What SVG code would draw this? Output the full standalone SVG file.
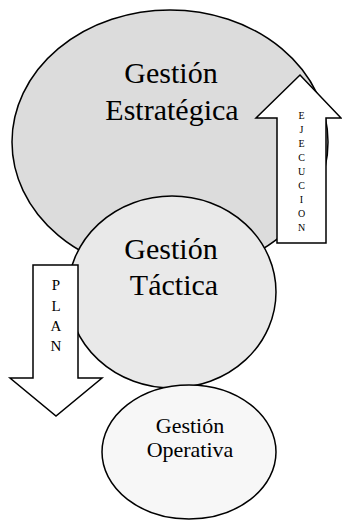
<svg xmlns="http://www.w3.org/2000/svg" width="342" height="521" viewBox="0 0 342 521">
  <style>
    .shape { stroke: #000; stroke-width: 1.5; }
    text { font-family: 'Liberation Serif', Tinos, 'Times New Roman', serif; fill: #000; text-anchor: middle; }
    .big { font-size: 30px; }
    .mid { font-size: 22px; }
  </style>
  <rect width="342" height="521" fill="#fff"/>

  <g id="estrategica">
    <ellipse class="shape" cx="170" cy="142" rx="158" ry="132" fill="#dcdcdc"/>
    <text class="big" x="171" y="83">Gestión</text>
    <text class="big" x="172" y="120">Estratégica</text>
  </g>

  <g id="connectors">
    <g id="ejecucion">
      <path class="shape" d="M300,75 L341,118 L326,118 L326,243 L277,243 L277,118 L256,118 Z" fill="#fff"/>
      <g font-size="10">
        <text x="301.5" y="119">E</text>
        <text x="301.5" y="133">J</text>
        <text x="301.5" y="147">E</text>
        <text x="301.5" y="161">C</text>
        <text x="301.5" y="175">U</text>
        <text x="301.5" y="189">C</text>
        <text x="301.5" y="203">I</text>
        <text x="301.5" y="217">O</text>
        <text x="301.5" y="231">N</text>
      </g>
    </g>
  </g>

  <g id="tactica">
    <ellipse class="shape" cx="172" cy="292" rx="104" ry="96" fill="#e9e9e9"/>
    <text class="big" x="171" y="259">Gestión</text>
    <text class="big" x="174" y="295">Táctica</text>
  </g>

  <g id="plan">
    <path class="shape" d="M33,265 L78,265 L78,378 L102,378 L56,416 L10,378 L33,378 Z" fill="#fff"/>
    <g font-size="15">
      <text x="56" y="290">P</text>
      <text x="56" y="311">L</text>
      <text x="56" y="331">A</text>
      <text x="56" y="351">N</text>
    </g>
  </g>

  <g id="operativa">
    <ellipse class="shape" cx="189" cy="452" rx="87" ry="67" fill="#f7f7f7"/>
    <text class="mid" x="190" y="433">Gestión</text>
    <text class="mid" x="190" y="457">Operativa</text>
  </g>
</svg>
